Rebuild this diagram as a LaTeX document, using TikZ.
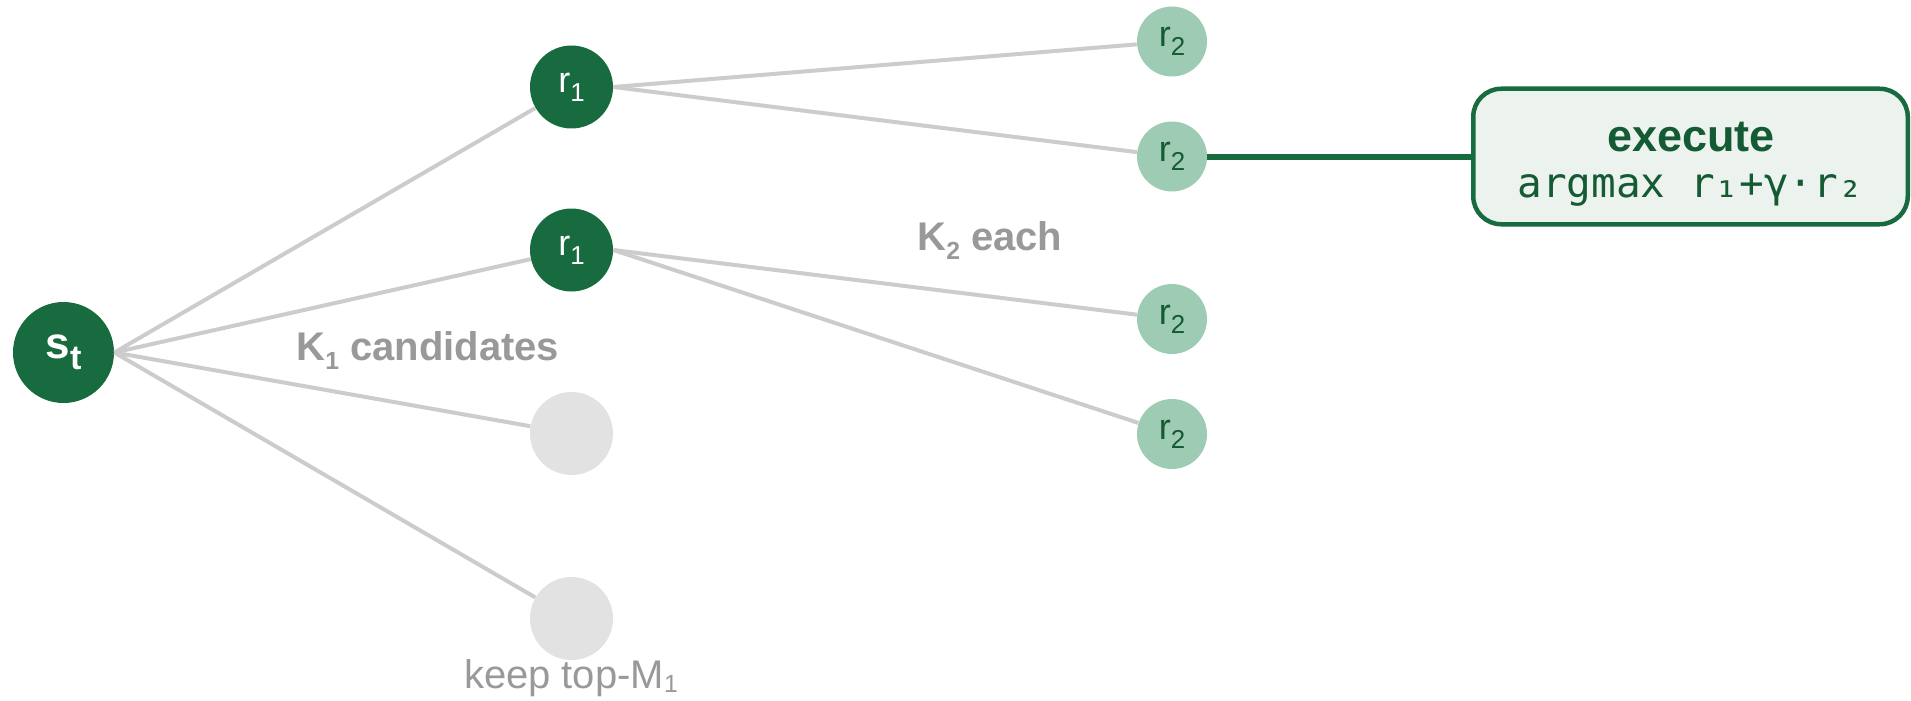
\documentclass[tikz,border=0pt]{standalone}
\usepackage{fontspec}
\setmainfont{Liberation Sans}
\newfontfamily\codefont{DejaVu Sans Mono}
\definecolor{deepgreen}{HTML}{176B3F}
\definecolor{inkgreen}{HTML}{145A33}
\definecolor{palegreen}{HTML}{9ECBB3}
\definecolor{boxfill}{HTML}{ECF3EE}
\definecolor{edgegray}{HTML}{CCCCCC}
\definecolor{ghost}{HTML}{E2E2E2}
\definecolor{labelgray}{HTML}{999999}
% lowered, shrunk index (subscript) for sans text
\newcommand\lowidx[2][0.62]{\raisebox{-0.24em}{\scalebox{#1}{#2}}}
\begin{document}
\begin{tikzpicture}[x=0.5pt,y=-0.5pt,
  state/.style={circle,fill=deepgreen,text=white,inner sep=0pt,minimum size=50.5pt,
    font=\fontsize{22pt}{26pt}\selectfont\bfseries},
  first/.style={circle,fill=deepgreen,text=white,inner sep=0pt,minimum size=41.5pt,
    font=\fontsize{18pt}{21pt}\selectfont},
  pruned/.style={circle,fill=ghost,inner sep=0pt,minimum size=41.5pt},
  second/.style={circle,fill=palegreen,text=inkgreen,inner sep=0pt,minimum size=35pt,
    font=\fontsize{18pt}{21pt}\selectfont},
  branch/.style={draw=edgegray,line width=2pt},
  chosen/.style={draw=deepgreen,line width=3pt},
  decision/.style={draw=deepgreen,line width=2.25pt,fill=boxfill,rounded corners=14pt,
    minimum width=217.25pt,minimum height=67.75pt,inner sep=0pt},
  note/.style={text=labelgray,inner sep=0pt,font=\fontsize{20pt}{24pt}\selectfont}
]
\useasboundingbox (0,0) rectangle (1911,701);

% nodes
\node[state] (st) at (63.5,352.5) {s\lowidx[0.78]{t}};
\node[first] (r1a) at (571.5,87) {r\lowidx[0.72]{1}};
\node[first] (r1b) at (571.5,250) {r\lowidx[0.72]{1}};
\node[pruned] (g1) at (571.5,433.5) {};
\node[pruned] (g2) at (571.5,618.5) {};
\node[second] (r2a) at (1172,41.5) {r\lowidx[0.72]{2}};
\node[second] (r2b) at (1172,156.5) {r\lowidx[0.72]{2}};
\node[second] (r2c) at (1172,319) {r\lowidx[0.72]{2}};
\node[second] (r2d) at (1172,434) {r\lowidx[0.72]{2}};
\node[decision] (exec) at (1690.5,156.5) {};

% branches
\foreach \t in {r1a,r1b,g1,g2} \draw[branch] (st.east) -- (\t);
\draw[branch] (r1a.east) -- (r2a);
\draw[branch] (r1a.east) -- (r2b);
\draw[branch] (r1b.east) -- (r2c);
\draw[branch] (r1b.east) -- (r2d);
\draw[chosen] (r2b.east) -- (exec.west);

% box text
\node[anchor=base,inner sep=0pt,text=inkgreen,font=\fontsize{22.5pt}{26pt}\selectfont\bfseries]
  (exectitle) at (1691,152) {execute};
\node[anchor=base west,inner sep=0pt,text=inkgreen,font=\codefont\fontsize{20.5pt}{24pt}\selectfont]
  (execrule) at (1517,198) {argmax r₁+γ·r₂};

% annotations
\node[note,anchor=base west,font=\fontsize{20pt}{24pt}\selectfont\bfseries] (k1) at (296,360)
  {K\lowidx{1} candidates};
\node[note,anchor=base west,font=\fontsize{20pt}{24pt}\selectfont\bfseries] (k2) at (917,250)
  {K\lowidx{2} each};
\node[note,anchor=base] (m1) at (571,688) {keep top-M\raisebox{-0.12em}{\scalebox{0.62}{1}}};
\end{tikzpicture}
\end{document}
